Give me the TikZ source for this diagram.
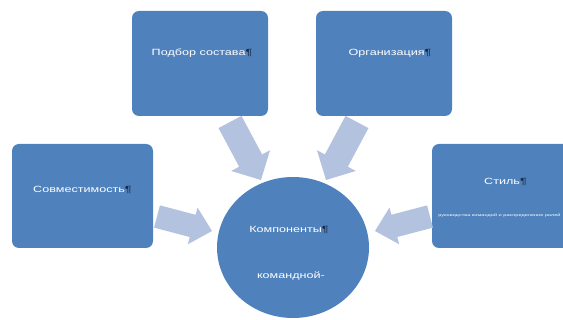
\documentclass[tikz,border=0pt]{standalone}
\usepackage{fontspec}
\setmainfont{Liberation Sans}
\usetikzlibrary{calc,shapes.geometric}
\definecolor{boxblue}{HTML}{4F81BD}
\definecolor{arrowblue}{HTML}{B3C2DE}
\definecolor{markblue}{HTML}{1B2A48}
\def\wtext#1{\scalebox{1.4}[1]{#1}}
\def\pil{\textcolor{markblue}{¶}}
\def\blockarrow#1(#2)(#3)#4#5#6{%
	\coordinate (#1-head) at ($(#3)!#6!(#2)$);
	\fill[arrowblue] ($(#2)!#4!90:(#3)$) -- ($(#1-head)!#4!-90:(#2)$) -- ($(#1-head)!#5!-90:(#2)$) -- (#3)
		-- ($(#1-head)!#5!90:(#2)$) -- ($(#1-head)!#4!90:(#2)$) -- ($(#2)!#4!-90:(#3)$) -- cycle;}

\begin{document}
\begin{tikzpicture}[x=1pt, y=-1pt,
		part/.style={fill=boxblue, rounded corners=7pt, inner sep=0pt},
		core/.style={ellipse, fill=boxblue, inner sep=0pt, minimum width=152pt, minimum height=141pt},
		lbl/.style={text=white, font=\fontsize{9}{9}\selectfont, inner sep=0pt}]
			%%%%% START %%%%%
			\useasboundingbox (0, 0) rectangle (563, 320);
			\clip (0, 0) rectangle (563, 320);
			
			\node[part, minimum width=136pt, minimum height=105pt] (staff) at (200, 63.5) {};
			\node[part, minimum width=136pt, minimum height=105pt] (org) at (384, 63.5) {};
			\node[part, minimum width=141pt, minimum height=104pt] (compat) at (82.5, 196) {};
			\node[part, minimum width=141pt, minimum height=104pt] (style) at (502.5, 196) {};
			\node[core] (team) at (293, 247.5) {};
			
			\node[lbl] (staff-t) at ([xshift=2pt, yshift=10pt]staff.center) {\wtext{Подбор состава\pil}};
			\node[lbl] (org-t) at ([xshift=6pt, yshift=10pt]org.center) {\wtext{Организация\pil}};
			\node[lbl] (compat-t) at ([yshift=6pt]compat.center) {\wtext{Совместимость\pil}};
			\node[lbl] (style-t) at ([xshift=3pt, yshift=14pt]style.center) {\wtext{Стиль\pil}};
			\node[lbl, font=\fontsize{3.5}{3.5}\selectfont] (style-t2) at ([xshift=-3pt, yshift=-20pt]style.center)
				{\scalebox{1.6}[1]{руководства командой и распределение ролей}};
			\node[lbl] (team-t) at ([xshift=-4pt, yshift=18pt]team.center) {\wtext{Компоненты\pil}};
			\node[lbl] (team-t2) at ([xshift=-2pt, yshift=-29pt]team.center) {\wtext{командной-}};
			
			\coordinate (a1) at (230, 122);
			\coordinate (a1-tip) at (261, 180);
			\coordinate (a2) at (357, 122);
			\coordinate (a2-tip) at (326, 180);
			\coordinate (a3) at (157, 216.5);
			\coordinate (a3-tip) at (212, 231);
			\coordinate (a4) at (430, 216.5);
			\coordinate (a4-tip) at (375, 231);
			
			\blockarrow{a1}(a1)(a1-tip){13pt}{22pt}{22pt}
			\blockarrow{a2}(a2)(a2-tip){13pt}{22pt}{22pt}
			\blockarrow{a3}(a3)(a3-tip){11.5pt}{19pt}{20pt}
			\blockarrow{a4}(a4)(a4-tip){11.5pt}{19pt}{20pt}
			
			%%%%% END %%%%%
\end{tikzpicture}
\end{document}
